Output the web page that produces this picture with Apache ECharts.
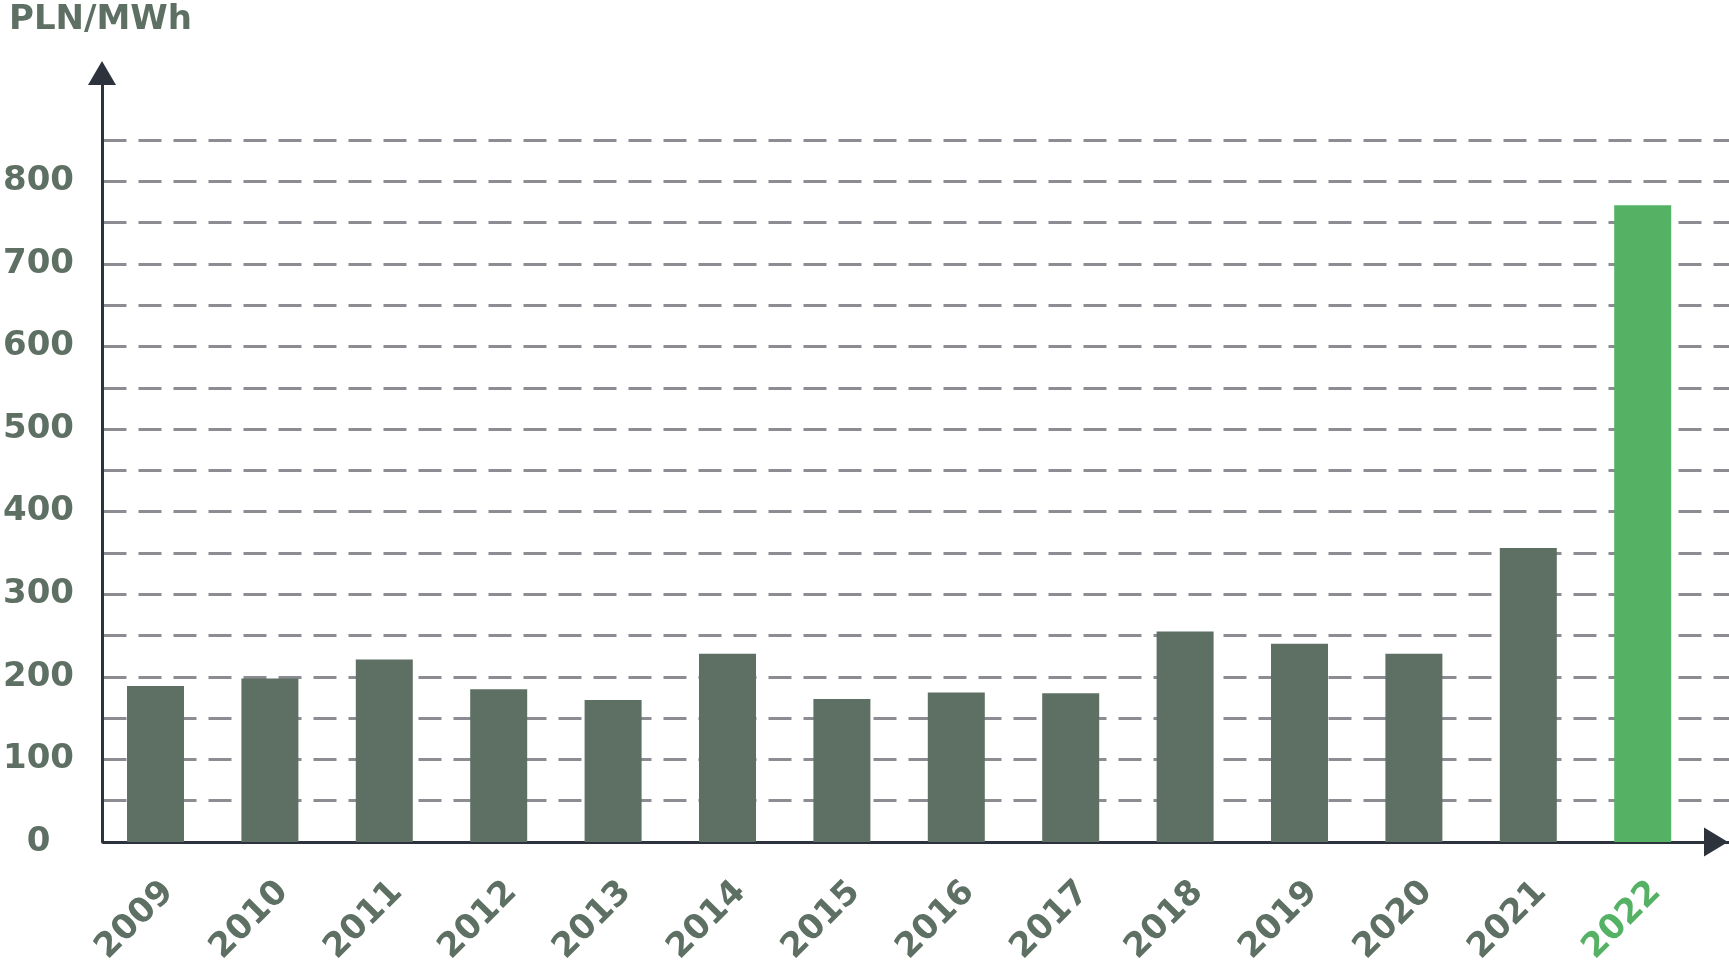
<!DOCTYPE html>
<html>
<head>
<meta charset="utf-8">
<script src="https://cdn.jsdelivr.net/npm/echarts@6/dist/echarts.min.js"></script>
<style>
  html, body { margin: 0; padding: 0; background: #ffffff; }
  #chart { width: 1729px; height: 968px; }
</style>
</head>
<body>
<div id="chart"></div>
<script>
const years = ['2009','2010','2011','2012','2013','2014','2015','2016','2017','2018','2019','2020','2021','2022'];
const prices = [189, 198, 221, 185, 172, 228, 173, 181, 180, 255, 240, 228, 356, 771];
const highlightYear = '2022';
const unitLabel = 'PLN/MWh';

const FONT = 'DejaVu Sans';
const TEXT = '#5d7063';
const BAR = '#5e7064';
const GREEN = '#55b264';
const AXIS = '#2d333d';
const GRID = '#8b8d93';

const chart = echarts.init(document.getElementById('chart'), null, { renderer: 'canvas' });

const categoryData = years.map(y => y === highlightYear
  ? { value: y, textStyle: { color: GREEN } }
  : y);
const barData = years.map((y, i) => y === highlightYear
  ? { value: prices[i], itemStyle: { color: GREEN } }
  : prices[i]);

chart.setOption({
  animation: false,
  backgroundColor: '#ffffff',
  title: {
    text: unitLabel,
    left: 9, top: 3, padding: 0,
    textStyle: { fontFamily: FONT, fontSize: 34, fontWeight: 'bold', color: TEXT }
  },
  grid: [
    { left: 98.3, right: 29.1, top: 140, bottom: 126 },   // bars
    { left: 102, right: 0, top: 140, bottom: 126 },       // gridlines, y labels, x axis line
    { left: 102, right: 0, top: 73, bottom: 126 },        // y axis line + arrow
    { left: 111.3, right: 16.1, top: 140, bottom: 126 }   // year labels
  ],
  xAxis: [
    {
      gridIndex: 0, type: 'category', data: categoryData,
      axisLine: { show: false }, axisTick: { show: false }, axisLabel: { show: false }
    },
    {
      gridIndex: 1, type: 'value', min: 0, max: 1,
      axisLabel: { show: false }, axisTick: { show: false }, splitLine: { show: false },
      axisLine: { show: true, onZero: false, symbol: ['none', 'triangle'], symbolSize: [29, 24], symbolOffset: [0, -13],
        lineStyle: { color: AXIS, width: 3 } }
    },
    {
      gridIndex: 2, type: 'value', min: 0, max: 1, show: false
    },
    {
      gridIndex: 3, type: 'category', data: categoryData,
      axisLine: { show: false }, axisTick: { show: false },
      axisLabel: { rotate: 45, margin: 56, fontFamily: FONT, fontSize: 34, fontWeight: 'bold', color: TEXT }
    }
  ],
  yAxis: [
    { gridIndex: 0, type: 'value', min: 0, max: 850, show: false },
    {
      gridIndex: 1, type: 'value', min: 0, max: 850, interval: 50,
      axisLine: { show: false }, axisTick: { show: false },
      splitLine: { show: true, showMinLine: false, lineStyle: { color: GRID, width: 3, type: [23, 12] } },
      axisLabel: {
        margin: 65, align: 'center', verticalAlign: 'middle',
        fontFamily: FONT, fontSize: 34, fontWeight: 'bold', color: TEXT,
        formatter: v => (v % 100 === 0 ? String(v) : '')
      }
    },
    {
      gridIndex: 2, type: 'value', min: 0, max: 1,
      axisLabel: { show: false }, axisTick: { show: false }, splitLine: { show: false },
      axisLine: { show: true, onZero: false, symbol: ['none', 'triangle'], symbolSize: [28, 24],
        lineStyle: { color: AXIS, width: 3 } }
    },
    { gridIndex: 3, type: 'value', min: 0, max: 850, show: false }
  ],
  series: [
    {
      type: 'bar', xAxisIndex: 0, yAxisIndex: 0,
      data: barData, barWidth: 57,
      itemStyle: { color: BAR }, z: 3
    }
  ]
});
</script>
</body>
</html>
